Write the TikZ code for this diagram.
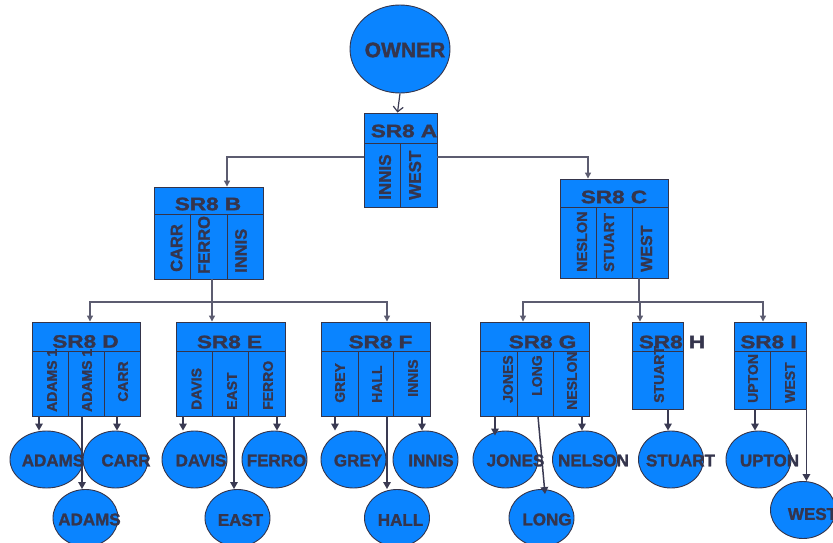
\documentclass[tikz,border=0pt]{standalone}
\usepackage{fontspec}
\setmainfont{Liberation Sans}
\newfontfamily\lbold{Liberation Sans}[UprightFont=*-Bold,FakeBold=1.6]
\usetikzlibrary{shapes.geometric,arrows.meta}
\definecolor{blu}{HTML}{0A84FF}
\definecolor{bord}{HTML}{34344A}
\definecolor{tx}{HTML}{35354D}
\definecolor{lvlc}{HTML}{5C5C70}
\definecolor{arc}{HTML}{3A3A52}
\tikzset{
  box/.style={draw=bord,fill=blu,line width=0.9pt,inner sep=0pt},
  part/.style={draw=bord,line width=0.9pt},
  ell/.style={ellipse,draw=bord,fill=blu,line width=0.9pt,inner sep=0pt,minimum width=65pt,minimum height=57pt},
  etxt/.style={text=tx,font=\lbold\fontsize{17}{17}\selectfont,inner sep=0pt},
  htxt/.style={text=tx,font=\lbold\fontsize{18}{18}\selectfont,inner sep=0pt},
  ctxt/.style={text=tx,inner sep=0pt,rotate=90,anchor=west},
  csmall/.style={font=\lbold\fontsize{14}{14}\selectfont},
  cmid/.style={font=\lbold\fontsize{16.5}{16.5}\selectfont},
  lvl/.style={draw=lvlc,line width=1.2pt},
  arr/.style={draw=arc,line width=1.5pt,-{Triangle[length=7pt,width=7.5pt]}},
  larr/.style={draw=lvlc,line width=1.2pt,-{Triangle[length=6pt,width=6pt]}}
}
\newcommand{\hd}[1]{\scalebox{1.25}[1]{#1}}
\begin{document}
\begin{tikzpicture}[x=1pt,y=-1pt]
\useasboundingbox (0,0) rectangle (833,543);
% owner
\node[ell,minimum width=100pt,minimum height=88pt] (OWN) at (400,49) {};
\node[etxt,font=\lbold\fontsize{21}{21}\selectfont] (OWNt) at (405,50) {OWNER};
% A
\node[box,minimum width=73pt,minimum height=94pt] (A) at (400.5,160) {};
\draw[part] (364,143) -- (437,143);
\draw[part] (400,143) -- (400,207);
\node[htxt] (Ah) at (404,131) {\hd{SR8 A}};
\node[ctxt,font=\lbold\fontsize{17}{17}\selectfont] (A1) at (385,200) {INNIS};
\node[ctxt,font=\lbold\fontsize{17}{17}\selectfont] (A2) at (415,200) {WEST};
% B
\node[box,minimum width=109pt,minimum height=92pt] (B) at (208.5,233) {};
\draw[part] (154,214) -- (263,214);
\draw[part] (190,214) -- (190,279);
\draw[part] (227,214) -- (227,279);
\node[htxt] (Bh) at (208,204) {\hd{SR8 B}};
\node[ctxt,cmid] (B1) at (176.5,272) {CARR};
\node[ctxt,cmid] (B2) at (204,274) {FERRO};
\node[ctxt,cmid] (B3) at (241,273) {INNIS};
% C
\node[box,minimum width=108pt,minimum height=99pt] (C) at (614,228.5) {};
\draw[part] (560,207) -- (668,207);
\draw[part] (596,207) -- (596,278);
\draw[part] (632,207) -- (632,278);
\node[htxt] (Ch) at (614,197) {\hd{SR8 C}};
\node[ctxt,font=\lbold\fontsize{14.5}{14.5}\selectfont] (C1) at (582,272) {NESLON};
\node[ctxt,font=\lbold\fontsize{14.5}{14.5}\selectfont] (C2) at (609,272) {STUART};
\node[ctxt,font=\lbold\fontsize{16}{16}\selectfont] (C3) at (646.5,272) {WEST};
% D
\node[box,minimum width=108pt,minimum height=94pt] (D) at (86,369) {};
\draw[part] (32,351) -- (140,351);
\draw[part] (68,351) -- (68,416);
\draw[part] (104,351) -- (104,416);
\node[htxt] (Dh) at (85.5,341.5) {\hd{SR8 D}};
\node[ctxt,csmall] (D1) at (52,412) {ADAMS 1};
\node[ctxt,csmall] (D2) at (87,412) {ADAMS 1};
\node[ctxt,csmall] (D3) at (123,402) {CARR};
% E
\node[box,minimum width=109pt,minimum height=94pt] (E) at (230.5,369) {};
\draw[part] (176,351) -- (285,351);
\draw[part] (212,351) -- (212,416);
\draw[part] (248,351) -- (248,416);
\node[htxt] (Eh) at (229.5,342) {\hd{SR8 E}};
\node[ctxt,csmall] (E1) at (196.5,410) {DAVIS};
\node[ctxt,csmall] (E2) at (232,410) {EAST};
\node[ctxt,csmall] (E3) at (268,410) {FERRO};
% F
\node[box,minimum width=109pt,minimum height=94pt] (F) at (375.5,369) {};
\draw[part] (321,351) -- (430,351);
\draw[part] (358,351) -- (358,416);
\draw[part] (393,351) -- (393,416);
\node[htxt] (Fh) at (380.5,342) {\hd{SR8 F}};
\node[ctxt,csmall] (F1) at (340,403) {GREY};
\node[ctxt,csmall] (F2) at (377,403) {HALL};
\node[ctxt,csmall] (F3) at (413,397) {INNIS};
% G
\node[box,minimum width=109pt,minimum height=94pt] (G) at (534.5,369) {};
\draw[part] (480,351) -- (589,351);
\draw[part] (517,351) -- (517,416);
\draw[part] (553,351) -- (553,416);
\node[htxt] (Gh) at (542.5,342) {\hd{SR8 G}};
\node[ctxt,csmall] (G1) at (508,403) {JONES};
\node[ctxt,csmall] (G2) at (537,396) {LONG};
\node[ctxt,csmall] (G3) at (572,410) {NESLON};
% H
\node[box,minimum width=51pt,minimum height=87pt] (H) at (657.5,365.5) {};
\draw[part] (632,351) -- (683,351);
\node[htxt] (Hh) at (672,342) {\hd{SR8 H}};
\node[ctxt,csmall] (H1) at (659,403) {STUART};
% I
\node[box,minimum width=72pt,minimum height=87pt] (I) at (770,365.5) {};
\draw[part] (734,351) -- (806,351);
\draw[part] (770,351) -- (770,409);
\node[htxt] (Ih) at (768.5,342) {\hd{SR8 I}};
\node[ctxt,csmall] (I1) at (753,403) {UPTON};
\node[ctxt,csmall] (I2) at (790,403) {WEST};
% leaf ellipses
\node[ell,minimum width=73pt] (eAdamsL) at (46.5,459.5) {};
\node[ell] (eCarr) at (115.5,459.5) {};
\node[ell] (eAdamsB) at (85.5,518) {};
\node[ell] (eDavis) at (194.5,459.5) {};
\node[ell] (eFerro) at (274.5,459.5) {};
\node[ell] (eEast) at (237.5,518) {};
\node[ell] (eGrey) at (353.5,459.5) {};
\node[ell] (eInnis) at (425.5,459.5) {};
\node[ell] (eHall) at (397,518) {};
\node[ell] (eJones) at (505.5,459.5) {};
\node[ell] (eNelson) at (585,459.5) {};
\node[ell] (eLong) at (541.5,518) {};
\node[ell] (eStuart) at (671,459.5) {};
\node[ell] (eUpton) at (758.5,459.5) {};
\node[ell] (eWest) at (803,510) {};
% connectors
\draw[draw=arc,line width=1.2pt,-{Straight Barb[length=5pt,width=10pt]}] (OWN.south) -- ([xshift=-3pt]A.north);
\draw[larr] ([yshift=3pt]A.west) -| ([xshift=18.5pt]B.north);
\draw[larr] ([yshift=3pt]A.east) -| ([xshift=-26pt]C.north);
\coordinate (bj) at (212,302);
\coordinate (cj) at (639,302);
\draw[lvl] ([xshift=3.5pt]B.south) -- (bj);
\draw[larr] (bj) -| ([xshift=4pt]D.north);
\draw[larr] (bj) -- ([xshift=-18.5pt]E.north);
\draw[larr] (bj) -| ([xshift=11.5pt]F.north);
\draw[lvl] ([xshift=25pt]C.south) -- (cj);
\draw[larr] (cj) -| ([xshift=-11.5pt]G.north);
\draw[larr] (cj) -| ([xshift=-17.5pt]H.north);
\draw[larr] (cj) -| ([xshift=-7pt]I.north);
% leaf arrows
\draw[arr] ([xshift=-47pt]D.south) -- ([xshift=-47pt]D.south |- eAdamsL.north);
\draw[arr] ([xshift=-4pt]D.south) -- ([xshift=-4pt]D.south |- eAdamsB.north);
\draw[arr] ([xshift=31pt]D.south) -- ([xshift=31pt]D.south |- eCarr.north);
\draw[arr] ([xshift=-47.5pt]E.south) -- ([xshift=-47.5pt]E.south |- eDavis.north);
\draw[arr] ([xshift=3.5pt]E.south) -- ([xshift=3.5pt]E.south |- eEast.north);
\draw[arr] ([xshift=46.5pt]E.south) -- ([xshift=46.5pt]E.south |- eFerro.north);
\draw[arr] ([xshift=-40.5pt]F.south) -- ([xshift=-40.5pt]F.south |- eGrey.north);
\draw[arr] ([xshift=11.5pt]F.south) -- ([xshift=11.5pt]F.south |- eHall.north);
\draw[arr] ([xshift=46.5pt]F.south) -- ([xshift=46.5pt]F.south |- eInnis.north);
\draw[arr] ([xshift=-39.5pt]G.south) -- ([xshift=-39.5pt,yshift=-5pt]G.south |- eJones.north);
\draw[arr] ([xshift=3.5pt]G.south) -- ([xshift=3.5pt,yshift=-5pt]eLong.north);
\draw[arr] ([xshift=47.5pt]G.south) -- ([xshift=47.5pt]G.south |- eNelson.north);
\draw[arr] ([xshift=10.5pt]H.south) -- ([xshift=10.5pt]H.south |- eStuart.north);
\draw[arr] ([xshift=-15pt]I.south) -- ([xshift=-15pt]I.south |- eUpton.north);
\draw[arr] (I.south east) -- (I.south east |- eWest.north);
% leaf labels
\node[etxt] (tAdamsL) at (53,460.5) {ADAMS};
\node[etxt] (tCarr) at (126,460.5) {CARR};
\node[etxt] (tAdamsB) at (89.5,519.5) {ADAMS};
\node[etxt] (tDavis) at (201,460.5) {DAVIS};
\node[etxt] (tFerro) at (276.5,460.5) {FERRO};
\node[etxt] (tEast) at (240.5,520) {EAST};
\node[etxt] (tGrey) at (358,460.5) {GREY};
\node[etxt] (tInnis) at (431,460.5) {INNIS};
\node[etxt] (tHall) at (400.5,520) {HALL};
\node[etxt] (tJones) at (515.5,460.5) {JONES};
\node[etxt] (tNelson) at (593.5,460.5) {NELSON};
\node[etxt] (tLong) at (547,519.5) {LONG};
\node[etxt] (tStuart) at (680.5,460.5) {STUART};
\node[etxt] (tUpton) at (769.5,460.5) {UPTON};
\node[etxt] (tWest) at (812.5,514) {WEST};
\end{tikzpicture}
\end{document}
